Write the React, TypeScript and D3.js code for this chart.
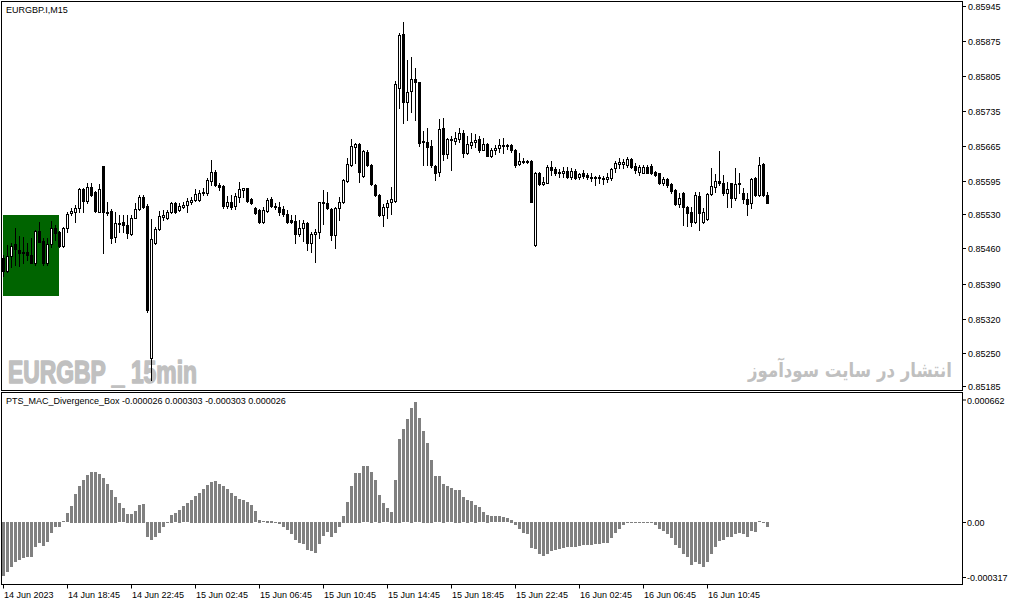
import { useEffect, useRef } from 'react';
import * as d3 from 'd3';

// time axis: label text and the bar it sits on
const timeLabels = ['14 Jun 2023', '14 Jun 18:45', '14 Jun 22:45', '15 Jun 02:45', '15 Jun 06:45', '15 Jun 10:45',
  '15 Jun 14:45', '15 Jun 18:45', '15 Jun 22:45', '16 Jun 02:45', '16 Jun 06:45', '16 Jun 10:45'];
const timeLabelBars = [0, 16, 32, 48, 64, 80, 96, 112, 128, 144, 160, 176];

const priceTicks = [0.85945, 0.85875, 0.85805, 0.85735, 0.85665, 0.85595, 0.85530, 0.85460, 0.85390, 0.85320, 0.85250, 0.85185];
const histTicks = [0.000662, 0, -0.000317];
const histTickLabels = ['0.000662', '0.00', '-0.000317'];

// divergence box: first and last bar, top and bottom price
const boxBars = [0, 14];
const boxPrices = [0.85527, 0.85365];

const open = [
  0.85441, 0.85415, 0.85445, 0.85469, 0.85457, 0.85453, 0.85453, 0.85447, 0.85431, 0.85495,
  0.85475, 0.85431, 0.85469, 0.85501, 0.85493, 0.85465, 0.85501, 0.85531, 0.85533, 0.85541,
  0.85579, 0.85555, 0.85583, 0.85573, 0.85533, 0.85625, 0.85533, 0.85535, 0.85483, 0.85511,
  0.85513, 0.85507, 0.85489, 0.85521, 0.85539, 0.85563, 0.85545, 0.85241, 0.85471, 0.85499,
  0.85523, 0.85521, 0.85533, 0.85551, 0.85537, 0.85543, 0.85547, 0.85553, 0.85557, 0.85557,
  0.85571, 0.85571, 0.85595, 0.85613, 0.85587, 0.85585, 0.85545, 0.85553, 0.85545, 0.85563,
  0.85577, 0.85581, 0.85559, 0.85541, 0.85537, 0.85513, 0.85535, 0.85559, 0.85545, 0.85543,
  0.85539, 0.85529, 0.85517, 0.85515, 0.85489, 0.85501, 0.85511, 0.85471, 0.85489, 0.85493,
  0.85551, 0.85551, 0.85539, 0.85487, 0.85541, 0.85553, 0.85595, 0.85627, 0.85663, 0.85669,
  0.85605, 0.85653, 0.85627, 0.85587, 0.85567, 0.85527, 0.85543, 0.85553, 0.85555, 0.85781,
  0.85889, 0.85753, 0.85775, 0.85799, 0.85793, 0.85675, 0.85673, 0.85665, 0.85625, 0.85613,
  0.85701, 0.85649, 0.85677, 0.85675, 0.85679, 0.85691, 0.85651, 0.85667, 0.85673, 0.85679,
  0.85657, 0.85669, 0.85645, 0.85657, 0.85661, 0.85665, 0.85665, 0.85667, 0.85657, 0.85629,
  0.85633, 0.85635, 0.85635, 0.85467, 0.85611, 0.85589, 0.85591, 0.85623, 0.85619, 0.85613,
  0.85611, 0.85615, 0.85603, 0.85615, 0.85603, 0.85611, 0.85607, 0.85603, 0.85601, 0.85601,
  0.85601, 0.85599, 0.85601, 0.85621, 0.85629, 0.85629, 0.85627, 0.85639, 0.85625, 0.85613,
  0.85611, 0.85623, 0.85625, 0.85613, 0.85611, 0.85591, 0.85599, 0.85589, 0.85577, 0.85549,
  0.85571, 0.85543, 0.85533, 0.85513, 0.85565, 0.85513, 0.85519, 0.85569, 0.85583, 0.85595,
  0.85591, 0.85571, 0.85591, 0.85561, 0.85589, 0.85571, 0.85559, 0.85551, 0.85601, 0.85567,
  0.85629, 0.85567
];
const high = [
  0.85447, 0.85467, 0.85471, 0.85501, 0.85485, 0.85483, 0.85471, 0.85481, 0.85497, 0.85513,
  0.85481, 0.85481, 0.85515, 0.85507, 0.85495, 0.85503, 0.85533, 0.85541, 0.85547, 0.85581,
  0.85581, 0.85591, 0.85591, 0.85575, 0.85589, 0.85625, 0.85553, 0.85539, 0.85533, 0.85527,
  0.85527, 0.85527, 0.85527, 0.85551, 0.85567, 0.85567, 0.85549, 0.85519, 0.85503, 0.85535,
  0.85537, 0.85537, 0.85553, 0.85553, 0.85551, 0.85553, 0.85561, 0.85563, 0.85579, 0.85577,
  0.85581, 0.85601, 0.85637, 0.85617, 0.85591, 0.85587, 0.85565, 0.85567, 0.85571, 0.85593,
  0.85581, 0.85581, 0.85561, 0.85543, 0.85539, 0.85543, 0.85561, 0.85563, 0.85551, 0.85553,
  0.85545, 0.85537, 0.85527, 0.85527, 0.85517, 0.85517, 0.85513, 0.85493, 0.85499, 0.85553,
  0.85577, 0.85573, 0.85541, 0.85543, 0.85563, 0.85599, 0.85641, 0.85679, 0.85671, 0.85671,
  0.85657, 0.85657, 0.85629, 0.85589, 0.85569, 0.85549, 0.85557, 0.85583, 0.85795, 0.85891,
  0.85913, 0.85837, 0.85843, 0.85821, 0.85793, 0.85695, 0.85701, 0.85677, 0.85627, 0.85719,
  0.85721, 0.85681, 0.85685, 0.85693, 0.85701, 0.85697, 0.85685, 0.85691, 0.85689, 0.85685,
  0.85681, 0.85671, 0.85661, 0.85667, 0.85679, 0.85681, 0.85669, 0.85669, 0.85659, 0.85651,
  0.85641, 0.85637, 0.85637, 0.85613, 0.85613, 0.85603, 0.85627, 0.85635, 0.85623, 0.85619,
  0.85623, 0.85623, 0.85621, 0.85619, 0.85611, 0.85617, 0.85611, 0.85611, 0.85605, 0.85607,
  0.85605, 0.85611, 0.85621, 0.85635, 0.85641, 0.85639, 0.85643, 0.85641, 0.85631, 0.85627,
  0.85627, 0.85627, 0.85629, 0.85615, 0.85611, 0.85603, 0.85601, 0.85591, 0.85579, 0.85571,
  0.85573, 0.85545, 0.85543, 0.85573, 0.85573, 0.85541, 0.85571, 0.85621, 0.85609, 0.85655,
  0.85607, 0.85593, 0.85591, 0.85621, 0.85611, 0.85581, 0.85571, 0.85601, 0.85603, 0.85643,
  0.85631, 0.85573
];
const low = [
  0.85405, 0.85413, 0.85423, 0.85427, 0.85425, 0.85431, 0.85437, 0.85431, 0.85427, 0.85473,
  0.85427, 0.85427, 0.85463, 0.85477, 0.85463, 0.85463, 0.85493, 0.85527, 0.85513, 0.85533,
  0.85533, 0.85551, 0.85565, 0.85533, 0.85533, 0.85451, 0.85527, 0.85471, 0.85473, 0.85493,
  0.85493, 0.85481, 0.85487, 0.85521, 0.85537, 0.85541, 0.85333, 0.85197, 0.85469, 0.85497,
  0.85517, 0.85519, 0.85531, 0.85531, 0.85535, 0.85541, 0.85533, 0.85549, 0.85555, 0.85555,
  0.85567, 0.85567, 0.85587, 0.85585, 0.85577, 0.85541, 0.85541, 0.85539, 0.85539, 0.85553,
  0.85563, 0.85553, 0.85549, 0.85529, 0.85511, 0.85511, 0.85533, 0.85543, 0.85539, 0.85527,
  0.85525, 0.85511, 0.85511, 0.85471, 0.85485, 0.85475, 0.85457, 0.85453, 0.85433, 0.85481,
  0.85509, 0.85539, 0.85477, 0.85461, 0.85517, 0.85551, 0.85593, 0.85625, 0.85631, 0.85593,
  0.85603, 0.85625, 0.85587, 0.85565, 0.85525, 0.85505, 0.85521, 0.85529, 0.85553, 0.85741,
  0.85711, 0.85717, 0.85733, 0.85717, 0.85665, 0.85627, 0.85627, 0.85623, 0.85597, 0.85605,
  0.85637, 0.85641, 0.85617, 0.85669, 0.85673, 0.85643, 0.85649, 0.85661, 0.85663, 0.85653,
  0.85657, 0.85645, 0.85643, 0.85649, 0.85653, 0.85651, 0.85659, 0.85653, 0.85623, 0.85627,
  0.85631, 0.85631, 0.85553, 0.85465, 0.85587, 0.85587, 0.85591, 0.85607, 0.85607, 0.85603,
  0.85603, 0.85601, 0.85599, 0.85599, 0.85599, 0.85601, 0.85599, 0.85595, 0.85587, 0.85591,
  0.85589, 0.85593, 0.85597, 0.85613, 0.85621, 0.85621, 0.85623, 0.85621, 0.85611, 0.85607,
  0.85611, 0.85611, 0.85609, 0.85605, 0.85589, 0.85587, 0.85583, 0.85571, 0.85547, 0.85543,
  0.85507, 0.85505, 0.85505, 0.85511, 0.85497, 0.85511, 0.85517, 0.85567, 0.85573, 0.85587,
  0.85567, 0.85543, 0.85543, 0.85557, 0.85571, 0.85551, 0.85527, 0.85541, 0.85565, 0.85565,
  0.85565, 0.85551
];
const close = [
  0.85415, 0.85445, 0.85465, 0.85459, 0.85451, 0.85451, 0.85447, 0.85431, 0.85495, 0.85473,
  0.85431, 0.85469, 0.85501, 0.85491, 0.85465, 0.85501, 0.85529, 0.85535, 0.85541, 0.85579,
  0.85555, 0.85583, 0.85567, 0.85535, 0.85579, 0.85533, 0.85531, 0.85481, 0.85511, 0.85509,
  0.85507, 0.85491, 0.85521, 0.85539, 0.85563, 0.85543, 0.85337, 0.85479, 0.85499, 0.85525,
  0.85527, 0.85533, 0.85551, 0.85533, 0.85545, 0.85547, 0.85555, 0.85557, 0.85569, 0.85571,
  0.85573, 0.85597, 0.85613, 0.85587, 0.85583, 0.85545, 0.85553, 0.85543, 0.85565, 0.85579,
  0.85581, 0.85555, 0.85551, 0.85531, 0.85513, 0.85537, 0.85557, 0.85545, 0.85543, 0.85533,
  0.85529, 0.85513, 0.85513, 0.85489, 0.85501, 0.85511, 0.85471, 0.85489, 0.85493, 0.85553,
  0.85553, 0.85541, 0.85487, 0.85541, 0.85553, 0.85597, 0.85629, 0.85665, 0.85669, 0.85613,
  0.85655, 0.85627, 0.85589, 0.85567, 0.85527, 0.85543, 0.85551, 0.85559, 0.85789, 0.85887,
  0.85753, 0.85773, 0.85799, 0.85793, 0.85671, 0.85673, 0.85663, 0.85627, 0.85611, 0.85699,
  0.85649, 0.85679, 0.85679, 0.85681, 0.85691, 0.85651, 0.85669, 0.85673, 0.85677, 0.85657,
  0.85669, 0.85645, 0.85657, 0.85661, 0.85667, 0.85667, 0.85667, 0.85657, 0.85627, 0.85635,
  0.85635, 0.85633, 0.85553, 0.85611, 0.85589, 0.85593, 0.85623, 0.85617, 0.85611, 0.85611,
  0.85615, 0.85603, 0.85615, 0.85601, 0.85609, 0.85605, 0.85603, 0.85601, 0.85603, 0.85603,
  0.85599, 0.85603, 0.85619, 0.85631, 0.85633, 0.85633, 0.85639, 0.85623, 0.85617, 0.85623,
  0.85623, 0.85611, 0.85611, 0.85607, 0.85591, 0.85599, 0.85587, 0.85575, 0.85549, 0.85561,
  0.85543, 0.85531, 0.85513, 0.85567, 0.85531, 0.85533, 0.85569, 0.85585, 0.85595, 0.85591,
  0.85571, 0.85579, 0.85561, 0.85589, 0.85591, 0.85559, 0.85549, 0.85599, 0.85567, 0.85627,
  0.85567, 0.85551
];

// PTS_MAC_Divergence_Box histogram
const hist = [
  -0.000275, -0.000257, -0.000229, -0.000206, -0.000195, -0.000186, -0.000181, -0.000176, -0.000127, -0.000105,
  -0.000122, -0.000102, -0.000054, -0.000028, -0.000028, 0.000005, 0.000048, 0.000085, 0.000146, 0.000187,
  0.000217, 0.000243, 0.000258, 0.000258, 0.000248, 0.000227, 0.000197, 0.000166, 0.000131, 0.000099,
  0.000073, 0.000044, 0.000044, 0.000059, 0.000090, 0.000095, -0.000079, -0.000092, -0.000079, -0.000054,
  -0.000028, -0.000007, 0.000039, 0.000048, 0.000065, 0.000081, 0.000099, 0.000115, 0.000136, 0.000151,
  0.000171, 0.000192, 0.000207, 0.000212, 0.000197, 0.000187, 0.000171, 0.000151, 0.000136, 0.000120,
  0.000115, 0.000105, 0.000090, 0.000056, 0.000014, 0.000005, 0.000009, 0.000009, 0.000001, -0.000012,
  -0.000023, -0.000041, -0.000063, -0.000092, -0.000105, -0.000110, -0.000142, -0.000150, -0.000156, -0.000110,
  -0.000071, -0.000051, -0.000079, -0.000057, -0.000025, 0.000034, 0.000105, 0.000187, 0.000253, 0.000253,
  0.000288, 0.000288, 0.000259, 0.000214, 0.000141, 0.000099, 0.000071, 0.000054, 0.000217, 0.000426,
  0.000476, 0.000527, 0.000585, 0.000614, 0.000532, 0.000468, 0.000407, 0.000319, 0.000234, 0.000237,
  0.000197, 0.000183, 0.000175, 0.000166, 0.000166, 0.000129, 0.000115, 0.000107, 0.000090, 0.000078,
  0.000051, 0.000039, 0.000031, 0.000031, 0.000031, 0.000025, 0.000022, 0.000014, -0.000017, -0.000034,
  -0.000057, -0.000063, -0.000132, -0.000139, -0.000161, -0.000173, -0.000161, -0.000150, -0.000144, -0.000139,
  -0.000134, -0.000130, -0.000130, -0.000125, -0.000122, -0.000118, -0.000118, -0.000117, -0.000113, -0.000110,
  -0.000108, -0.000105, -0.000081, -0.000057, -0.000034, -0.000017, -0.000007, -0.000002, 0.000004, 0.000002,
  -0.000002, -0.000003, -0.000007, -0.000013, -0.000034, -0.000046, -0.000063, -0.000084, -0.000118, -0.000135,
  -0.000161, -0.000181, -0.000219, -0.000203, -0.000215, -0.000232, -0.000203, -0.000164, -0.000125, -0.000097,
  -0.000092, -0.000076, -0.000079, -0.000059, -0.000057, -0.000063, -0.000079, -0.000046, -0.000051, 0.000005,
  -0.000003, -0.000026
];

const FONT = '"Liberation Sans", Arial, sans-serif';

export default function App() {
  const svgRef = useRef<SVGSVGElement>(null);

  useEffect(() => {
    if (!svgRef.current) return;
    const svg = d3.select(svgRef.current);
    svg.selectAll('*').remove();

    const left = 1.5;
    const axisX = 962.5;
    const mainTop = 1.5;
    const mainBottom = 390.5;
    const indTop = 392.5;
    const indBottom = 584.5;

    const x = d3.scaleLinear().domain([0, open.length - 1]).range([3, 767]);
    const yPrice = d3.scaleLinear().domain([0.85185, 0.85945]).range([386, 6]);
    const yInd = d3.scaleLinear().domain([-0.000317, 0.000662]).range([indBottom, indTop]);

    svg.append('rect').attr('width', 1009).attr('height', 606).attr('fill', '#fff');

    // ---- main price panel ----
    const main = svg.append('g');
    main.append('defs').append('clipPath').attr('id', 'mainClip')
      .append('rect').attr('x', left).attr('y', mainTop)
      .attr('width', axisX - left).attr('height', mainBottom - mainTop);

    const plot = main.append('g').attr('clip-path', 'url(#mainClip)');

    // divergence box
    plot.append('rect')
      .attr('x', x(boxBars[0]))
      .attr('y', Math.round(yPrice(boxPrices[0])))
      .attr('width', x(boxBars[1]) - x(boxBars[0]))
      .attr('height', Math.round(yPrice(boxPrices[1])) - Math.round(yPrice(boxPrices[0])))
      .attr('fill', '#006400');

    // watermarks (heavy condensed look: bold + same-colour stroke)
    plot.append('text')
      .attr('x', 8).attr('y', 383)
      .attr('font-family', FONT)
      .attr('font-weight', 'bold').attr('font-size', 32)
      .attr('textLength', 189).attr('lengthAdjust', 'spacingAndGlyphs')
      .attr('fill', '#c0c0c0')
      .attr('stroke', '#c0c0c0').attr('stroke-width', 1.6).attr('stroke-linejoin', 'round')
      .text('EURGBP _ 15min');

    plot.append('text')
      .attr('x', 748).attr('y', 377)
      .attr('font-family', '"DejaVu Sans", sans-serif')
      .attr('font-weight', 'bold').attr('font-size', 20)
      .attr('textLength', 204).attr('lengthAdjust', 'spacingAndGlyphs')
      .attr('fill', '#c0c0c0')
      .text('انتشار در سایت سودآموز');

    // candles
    const candles = plot.append('g');
    open.forEach((o, i) => {
      const c = Math.round(x(i));
      const cl = close[i];
      const yH = Math.round(yPrice(high[i]));
      const yL = Math.round(yPrice(low[i]));
      const yTop = Math.round(yPrice(Math.max(o, cl)));
      const yBot = Math.round(yPrice(Math.min(o, cl)));
      candles.append('rect')
        .attr('x', c).attr('y', yH).attr('width', 1).attr('height', Math.max(1, yL - yH + 1))
        .attr('fill', '#000');
      if (yBot - yTop < 1) {
        candles.append('rect').attr('x', c - 1).attr('y', yTop).attr('width', 3).attr('height', 1).attr('fill', '#000');
      } else if (cl >= o) {
        candles.append('rect')
          .attr('x', c - 0.5).attr('y', yTop + 0.5)
          .attr('width', 2).attr('height', yBot - yTop)
          .attr('fill', '#fff').attr('stroke', '#000').attr('stroke-width', 1);
      } else {
        candles.append('rect')
          .attr('x', c - 1).attr('y', yTop)
          .attr('width', 3).attr('height', yBot - yTop + 1)
          .attr('fill', '#000');
      }
    });

    // title
    main.append('text')
      .attr('x', 6).attr('y', 13)
      .attr('font-family', FONT).attr('font-size', 9)
      .attr('fill', '#000')
      .text('EURGBP.I,M15');

    // ---- indicator panel ----
    const ind = svg.append('g');
    ind.selectAll('rect.hbar')
      .data(hist)
      .join('rect')
      .attr('class', 'hbar')
      .attr('x', (_, i) => Math.round(x(i)) - 1)
      .attr('y', d => Math.round(Math.min(yInd(d), yInd(0))))
      .attr('width', 3)
      .attr('height', d => Math.max(1, Math.round(Math.abs(yInd(d) - yInd(0)))))
      .attr('fill', '#808080');

    ind.append('text')
      .attr('x', 6).attr('y', 403.5)
      .attr('font-family', FONT).attr('font-size', 9)
      .attr('fill', '#000')
      .text('PTS_MAC_Divergence_Box -0.000026 0.000303 -0.000303 0.000026');

    // ---- frames ----
    const frame = svg.append('g').attr('fill', 'none').attr('stroke', '#000').attr('stroke-width', 1);
    frame.append('rect').attr('x', left).attr('y', mainTop).attr('width', axisX - left).attr('height', mainBottom - mainTop);
    frame.append('rect').attr('x', left).attr('y', indTop).attr('width', axisX - left).attr('height', indBottom - indTop);

    // ---- price axis ----
    const pAxis = svg.append('g');
    priceTicks.forEach(p => {
      const yy = Math.round(yPrice(p)) + 0.5;
      pAxis.append('line').attr('x1', axisX).attr('x2', axisX + 3.5).attr('y1', yy).attr('y2', yy)
        .attr('stroke', '#000');
      pAxis.append('text')
        .attr('x', 968).attr('y', yy + 3.5)
        .attr('font-family', FONT).attr('font-size', 9).attr('fill', '#000')
        .text(p.toFixed(5));
    });

    // ---- indicator axis ----
    const iAxis = svg.append('g');
    histTicks.forEach((v, k) => {
      const yy = Math.round(yInd(v)) + 0.5;
      const ty = k === 0 ? indTop + 11 : k === histTicks.length - 1 ? indBottom - 3.5 : yy + 3.5;
      iAxis.append('line').attr('x1', axisX).attr('x2', axisX + 3.5).attr('y1', ty - 3.5).attr('y2', ty - 3.5)
        .attr('stroke', '#000');
      iAxis.append('text')
        .attr('x', 967).attr('y', ty)
        .attr('font-family', FONT).attr('font-size', 9).attr('fill', '#000')
        .text(histTickLabels[k]);
    });

    // ---- time axis ----
    const tAxis = svg.append('g');
    timeLabels.forEach((t, k) => {
      const xx = Math.round(x(timeLabelBars[k])) + 0.5;
      tAxis.append('line').attr('x1', xx).attr('x2', xx).attr('y1', indBottom).attr('y2', indBottom + 4)
        .attr('stroke', '#000');
      tAxis.append('text')
        .attr('x', xx + 0.5).attr('y', 598)
        .attr('font-family', FONT).attr('font-size', 9).attr('fill', '#000')
        .text(t);
    });
  }, []);

  return (
    <svg
      ref={svgRef}
      width={1009}
      height={606}
      style={{ position: 'absolute', left: 0, top: 0, display: 'block' }}
    />
  );
}
